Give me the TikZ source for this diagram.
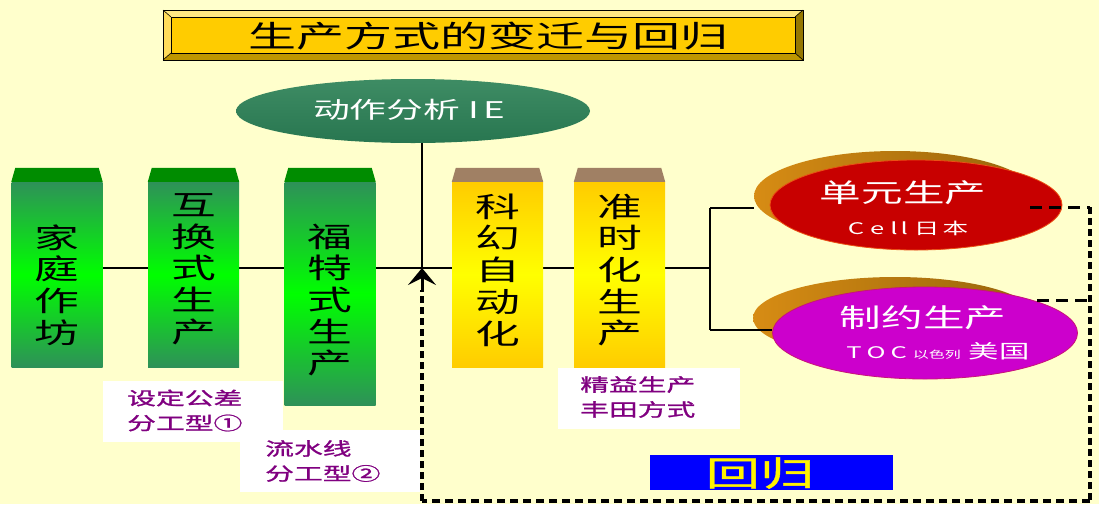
\documentclass[tikz,border=0pt]{standalone}
\usepackage{fontspec}
\usepackage{graphicx}
\usetikzlibrary{arrows.meta,shapes.geometric}
\newfontfamily\cj[FakeStretch=1.6]{Noto Sans CJK SC}
\newfontfamily\cjb[FakeStretch=1.6,FakeBold=1.2]{Noto Sans CJK SC}
\definecolor{bg}{RGB}{255,255,204}
\definecolor{capg}{RGB}{0,140,0}
\definecolor{gend}{RGB}{46,145,88}
\definecolor{gmid}{RGB}{0,255,0}
\definecolor{capb}{RGB}{160,128,100}
\definecolor{yend}{RGB}{255,204,0}
\definecolor{ymid}{RGB}{255,255,0}
\definecolor{iegreen}{RGB}{40,118,80}
\definecolor{iegreenL}{RGB}{62,140,100}
\definecolor{cellred}{RGB}{200,0,0}
\definecolor{celledge}{RGB}{235,80,20}
\definecolor{tocmag}{RGB}{204,0,204}
\definecolor{tocedge}{RGB}{200,20,120}
\definecolor{shA}{RGB}{215,140,20}
\definecolor{shB}{RGB}{150,100,10}
\definecolor{lbl}{RGB}{128,0,128}
\definecolor{titleY}{RGB}{255,204,0}
\definecolor{bevT}{RGB}{255,232,130}
\definecolor{bevL}{RGB}{255,220,90}
\definecolor{bevR}{RGB}{150,120,0}
\definecolor{bevB}{RGB}{190,150,0}
\definecolor{hgblue}{RGB}{0,0,255}
\pgfdeclarelayer{back}
\pgfsetlayers{back,main}
\begin{document}
\begin{tikzpicture}[x=1pt,y=-1pt,
  gbox/.style={rectangle, inner sep=0pt, minimum width=91pt, top color=gend, bottom color=gend, middle color=gmid},
  ybox/.style={rectangle, inner sep=0pt, minimum width=91pt, top color=yend, bottom color=yend, middle color=ymid},
  boxtxt/.style={font=\cj\fontsize{28}{31.7}\selectfont, align=center, text=black, inner sep=0pt},
  lblbox/.style={rectangle, fill=white, inner sep=0pt, minimum width=180pt, minimum height=61pt},
  lbltxt/.style={font=\cjb\fontsize{18}{25}\selectfont, text=lbl, align=left, anchor=west, inner sep=0pt},
  conn/.style={draw=black, line width=2pt},
  ret/.style={draw=black, line width=3pt},
  rethoriz/.style={ret, dash pattern=on 12pt off 7pt},
  retvert/.style={ret, line width=3.6pt, dash pattern=on 7pt off 4pt},
  retbottom/.style={ret, line width=3.4pt, dash pattern=on 8pt off 5pt},
  shadowell/.style={ellipse, inner sep=0pt, left color=shA, right color=shB},
  whitetxt/.style={text=white, inner sep=0pt},
]
\begin{pgfonlayer}{back}
\fill[bg] (0,0) rectangle (1099,504);
\end{pgfonlayer}
\useasboundingbox (0,0) rectangle (1099,504);

% title
\fill[titleY] (163,10) rectangle (803,60);
\fill[bevT] (163,10) -- (803,10) -- (795,17) -- (171,17) -- cycle;
\fill[bevL] (163,10) -- (171,17) -- (171,53) -- (163,60) -- cycle;
\fill[bevR] (803,10) -- (803,60) -- (795,53) -- (795,17) -- cycle;
\fill[bevB] (163,60) -- (803,60) -- (795,53) -- (171,53) -- cycle;
\draw[line width=1pt] (163,10) rectangle (803,60);
\draw[line width=0.8pt] (171,17) rectangle (795,53);
\draw[line width=0.6pt] (163,10) -- (171,17) (803,10) -- (795,17) (803,60) -- (795,53) (163,60) -- (171,53);
\node[inner sep=0pt, font=\cj\fontsize{30}{30}\selectfont] (title) at (488,36) {生产方式的变迁与回归};

% IE ellipse
\node[ellipse, inner sep=0pt, minimum width=354pt, minimum height=64pt, top color=iegreenL, bottom color=iegreen] (ie) at (413,111) {};
\node[whitetxt, font=\cj\fontsize{23}{23}\selectfont] (ietxt) at (409,110) {动作分析 I\,E};

% boxes
\node[gbox, minimum height=185pt] (b1) at (57,274.5) {};
\node[gbox, minimum height=185pt] (b2) at (193.5,274.5) {};
\node[gbox, minimum height=223pt] (b3) at (330,293.5) {};
\node[ybox, minimum height=185pt] (b4) at (497.5,274.5) {};
\node[ybox, minimum height=185pt] (b5) at (619.5,274.5) {};
\foreach \b in {b1,b2,b3}{
  \fill[capg] (\b.north west) -- ++(4,-14) -- ([shift={(-4,-14)}]\b.north east) -- (\b.north east) -- cycle;
}
\foreach \b in {b4,b5}{
  \fill[capb] (\b.north west) -- ++(4,-14) -- ([shift={(-4,-14)}]\b.north east) -- (\b.north east) -- cycle;
}
\node[boxtxt] (t1) at (57,285) {家\\庭\\作\\坊};
\node[boxtxt] (t2) at (193.5,269) {互\\换\\式\\生\\产};
\node[boxtxt] (t3) at (330,300) {福\\特\\式\\生\\产};
\node[boxtxt] (t4) at (497.5,270) {科\\幻\\自\\动\\化};
\node[boxtxt] (t5) at (619.5,270) {准\\时\\化\\生\\产};

% labels
\node[lblbox] (L1) at (193,411) {};
\node[lblbox, minimum height=62pt] (L2) at (330,461) {};
\node[lblbox, minimum width=182pt] (L3) at (649,398) {};
\node[lbltxt] (L1t) at (127,410.5) {设定公差\\分工型①};
\node[lbltxt] (L2t) at (265,461) {流水线\\分工型②};
\node[lbltxt] (L3t) at (580,397) {精益生产\\丰田方式};

% blue box
\node[rectangle, fill=hgblue, inner sep=0pt, minimum width=243pt, minimum height=35pt] (hg) at (771.5,472.5) {};
\node[inner sep=0pt, text=yellow, font=\cjb\fontsize{34}{34}\selectfont] (hgt) at (760,473) {回归};

% right ellipses
\node[shadowell, minimum width=282pt, minimum height=90pt] (s1) at (895,196) {};
\node[shadowell, minimum width=284pt, minimum height=82pt] (s2) at (895,318) {};
\coordinate (j) at (422,268);
\coordinate (br) at (710,268);
\coordinate (brT) at (710,208);
\coordinate (brB) at (710,330);
\draw[conn] (brB) -- (772,330);
\node[ellipse, inner sep=0pt, fill=cellred, draw=celledge, line width=0.8pt, minimum width=292pt, minimum height=90pt] (r1) at (916,205) {};
\node[ellipse, inner sep=0pt, fill=tocmag, draw=tocedge, line width=0.8pt, minimum width=305pt, minimum height=92pt] (m1) at (925,333) {};
\node[whitetxt, font=\cj\fontsize{26}{26}\selectfont] (r1a) at (903,193) {单元生产};
\node[whitetxt, font=\cj\fontsize{16}{16}\selectfont] (r1b) at (908,228) {C\hspace{6pt}e\hspace{6pt}l\hspace{3pt}l\hspace{6pt}日\hspace{3pt}本};
\node[whitetxt, font=\cj\fontsize{26}{26}\selectfont] (m1a) at (923,318) {制约生产};
\node[whitetxt, font=\cj\fontsize{16}{16}\selectfont] (m1b) at (938,351) {T\hspace{5pt}O\hspace{5pt}C\hspace{6pt}{\fontsize{10}{10}\selectfont 以色列}\hspace{8pt}{\fontsize{19}{19}\selectfont 美国}};

% solid connectors (behind)
\begin{pgfonlayer}{back}
\draw[conn] (ie.south -| j) -- (j);
\draw[conn] (b1.east |- j) -- (b2.west |- j);
\draw[conn] (b2.east |- j) -- (b3.west |- j);
\draw[conn] (b3.east |- j) -- (b4.west |- j);
\draw[conn] (b4.east |- j) -- (b5.west |- j);
\draw[conn] (b5.east |- j) -- (br);
\draw[conn] (brT) -- (brB);
\draw[conn] (brT) -- (s1.west |- brT);
\end{pgfonlayer}

% return path
\coordinate (d1) at (1030,207);
\coordinate (d2) at (1037,300);
\coordinate (c1) at (1090,207);
\coordinate (c2) at (1090,501);
\coordinate (c3) at (422,501);
\draw[rethoriz] (d1) -- (c1);
\draw[rethoriz] (d2) -- (c1 |- d2);
\draw[retvert] (c1) -- (c2);
\draw[retbottom] (c2) -- (c3);
\draw[retvert] (c3) -- (422,290);
\draw[black, line width=3pt, -{Stealth[length=17pt,width=28pt,inset=7pt]}] (422,292) -- (j);
\end{tikzpicture}
\end{document}
